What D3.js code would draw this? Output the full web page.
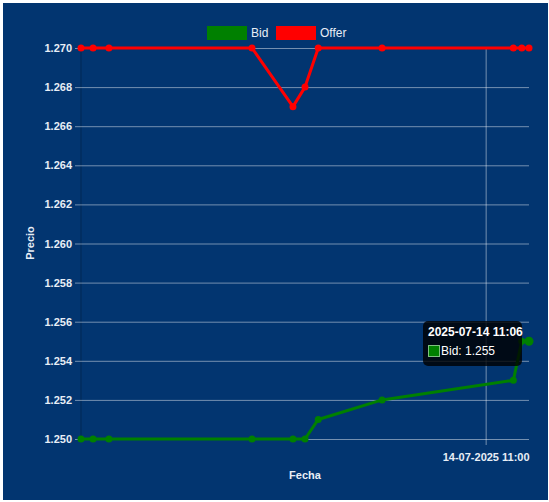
<!DOCTYPE html>
<html><head><meta charset="utf-8">
<script src="https://cdn.jsdelivr.net/npm/d3@7"></script>
<style>html,body{margin:0;padding:0;background:#fff;}svg{display:block;}</style>
</head><body>
<svg id="c" width="549" height="502"></svg>
<script>
const times = ["2025-07-14T10:04:00","2025-07-14T10:05:40","2025-07-14T10:07:52","2025-07-14T10:27:40","2025-07-14T10:33:20","2025-07-14T10:35:00","2025-07-14T10:36:50","2025-07-14T10:45:40","2025-07-14T11:03:50","2025-07-14T11:05:00","2025-07-14T11:06:00"];
const bid   = [1.250,1.250,1.250,1.250,1.250,1.250,1.251,1.252,1.253,1.255,1.255];
const offer = [1.270,1.270,1.270,1.270,1.267,1.268,1.270,1.270,1.270,1.270,1.270];
const yTicks = [1.250,1.252,1.254,1.256,1.258,1.260,1.262,1.264,1.266,1.268,1.270];
const xTicks = ["2025-07-14T11:00:00"];
const xTickLabels = ["14-07-2025 11:00"];
const seriesNames = ["Bid","Offer"];
const seriesColors = ["#008000","#ff0000"];
const tooltipTitle = "2025-07-14 11:06";
const tooltipBody = "Bid: 1.255";

const parse = d3.isoParse;
const dates = times.map(parse);
const svg = d3.select("#c");
const bg = "#023570";
svg.append("rect").attr("x",3).attr("y",3).attr("width",545).attr("height",497).attr("fill",bg);

const x = d3.scaleTime().domain(d3.extent(dates)).range([81,529]);
const y = d3.scaleLinear().domain([1.250,1.270]).range([439,48]);
const font = "'Liberation Sans', Arial, Helvetica, sans-serif";
const txt = "#e8eef6";
const grid = "rgba(255,255,255,0.45)";

// y grid + axis
const yAx = svg.append("g").attr("transform","translate(81,0)")
  .call(d3.axisLeft(y).tickValues(yTicks).tickFormat(d3.format(".3f")).tickSizeInner(6).tickSizeOuter(0).tickPadding(3));
yAx.select(".domain").attr("stroke","rgba(0,0,0,0.25)").attr("d","M0,48V439");
yAx.selectAll(".tick line").attr("stroke",grid).attr("x1",-6).attr("x2",448);
yAx.selectAll(".tick text").attr("fill",txt).attr("font-family",font).attr("font-size",11).attr("font-weight","bold");

// x grid + axis
const xAx = svg.append("g").attr("transform","translate(0,439)")
  .call(d3.axisBottom(x).tickValues(xTicks.map(parse)).tickFormat((d,i)=>xTickLabels[i]).tickSizeOuter(0).tickPadding(8));
xAx.select(".domain").remove();
xAx.selectAll(".tick line").attr("stroke",grid).attr("y1",-391).attr("y2",6);
xAx.selectAll(".tick text").attr("fill",txt).attr("font-family",font).attr("font-size",11).attr("font-weight","bold");

// axis titles
svg.append("text").attr("x",305).attr("y",479).attr("text-anchor","middle").attr("fill",txt)
  .attr("font-family",font).attr("font-size",11).attr("font-weight","bold").text("Fecha");
svg.append("text").attr("transform","translate(34,243) rotate(-90)").attr("text-anchor","middle").attr("fill",txt)
  .attr("font-family",font).attr("font-size",11).attr("font-weight","bold").text("Precio");

// lines
const series = [bid, offer];
const line = d3.line().x((d,i)=>x(dates[i])).y(d=>y(d));
series.forEach((s,k)=>{
  svg.append("path").datum(s).attr("d",line).attr("fill","none").attr("stroke",seriesColors[k])
    .attr("stroke-width",3).attr("stroke-linejoin","round");
  svg.append("g").selectAll("circle").data(s).join("circle")
    .attr("cx",(d,i)=>x(dates[i])).attr("cy",d=>y(d))
    .attr("r",(d,i)=> (k===0 && i===s.length-1) ? 4.5 : 3.5)
    .attr("fill",seriesColors[k]);
});

// legend
const lg = svg.append("g");
[[207,251],[276,320]].forEach((p,k)=>{
  lg.append("rect").attr("x",p[0]).attr("y",26).attr("width",40).attr("height",14).attr("fill",seriesColors[k]);
  lg.append("text").attr("x",p[1]).attr("y",37).attr("fill",txt).attr("font-family",font)
    .attr("font-size",12).text(seriesNames[k]);
});

// tooltip
const lastI = dates.length-1;
const tx = x(dates[lastI-1]) - 90, ty = y(bid[lastI]) - 20;
const tt = svg.append("g");
tt.append("rect").attr("x",423).attr("y",321).attr("width",99).attr("height",45).attr("rx",5)
  .attr("fill","rgba(0,0,0,0.8)");
tt.append("text").attr("x",428).attr("y",336).attr("fill","#fff").attr("font-family",font)
  .attr("font-size",12).attr("font-weight","bold").text(tooltipTitle);
tt.append("rect").attr("x",428.5).attr("y",345.5).attr("width",11).attr("height",11)
  .attr("fill",seriesColors[0]).attr("stroke","#7fbf7f").attr("stroke-width",1);
tt.append("text").attr("x",441).attr("y",355).attr("fill","#fff").attr("font-family",font)
  .attr("font-size",12).text(tooltipBody);
</script>
</body></html>
